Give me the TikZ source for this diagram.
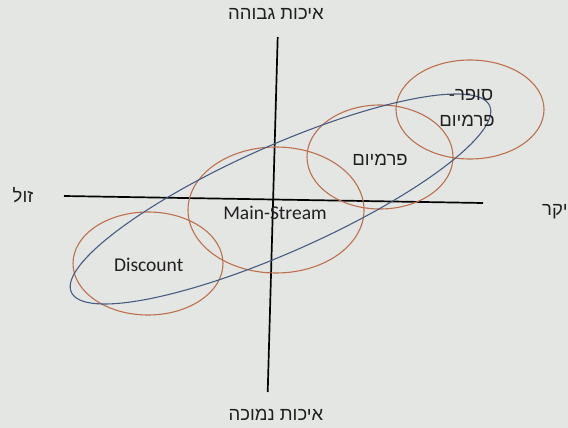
\documentclass[tikz,border=0pt]{standalone}
\usepackage{fontspec}
\setmainfont{Carlito}
\newfontfamily\heb[Script=Hebrew]{Liberation Sans}
\TeXXeTstate=1
\usetikzlibrary{shapes.geometric}
\definecolor{bgc}{RGB}{228,230,228}
\definecolor{seg}{RGB}{190,112,78}
\definecolor{band}{RGB}{72,92,130}
\tikzset{
  segell/.style={draw=seg, line width=1.1pt, ellipse, inner sep=0pt},
  axisline/.style={draw=black, line width=1.7pt},
  lbl/.style={font=\fontsize{19.5}{22}\selectfont, text=black!88, inner sep=0pt},
  hlbl/.style={font=\heb\fontsize{18.5}{22}\selectfont, text=black!88, inner sep=0pt, align=center},
}
\begin{document}
\begin{tikzpicture}[x=1pt,y=-1pt]
\fill[bgc] (0,0) rectangle (568,428);
\useasboundingbox (0,0) rectangle (568,428);
% axes
\coordinate (hl) at (64,196);
\coordinate (hr) at (483,203);
\coordinate (vt) at (277.7,37);
\coordinate (vb) at (267.7,392);
\draw[axisline] (hl) -- (hr);
\draw[axisline] (vt) -- (vb);
% segment ellipses
\node[segell, minimum width=150pt, minimum height=103pt] (disc) at (148,263.5) {};
\node[segell, minimum width=176pt, minimum height=126pt] (main) at (276,210) {};
\node[segell, minimum width=146pt, minimum height=104pt] (prem) at (380,157) {};
\node[segell, minimum width=148pt, minimum height=99pt] (super) at (470,109.5) {};
% band ellipse
\node[draw=band, line width=1.1pt, ellipse, inner sep=0pt, minimum width=458pt, minimum height=106pt, rotate=24] (band) at (280.5,199) {};
% labels
\node[lbl] (tdisc) at (148.7,265) {Discount};
\node[lbl] (tmain) at (275,213) {Main-Stream};
\node[hlbl] (tprem) at (380,160) {\beginR פרמיום\endR};
\node[hlbl] (tsup1) at (471,95) {\beginR סופר-\endR};
\node[hlbl] (tsup2) at (467,121) {\beginR פרמיום\endR};
\node[hlbl] (ttop) at (276,14) {\beginR איכות גבוהה\endR};
\node[hlbl] (tbot) at (276,415) {\beginR איכות נמוכה\endR};
\node[hlbl] (tleft) at (23,195) {\beginR זול\endR};
\node[hlbl, anchor=east] (tright) at (568,212) {\beginR יקר\endR};
\end{tikzpicture}
\end{document}
